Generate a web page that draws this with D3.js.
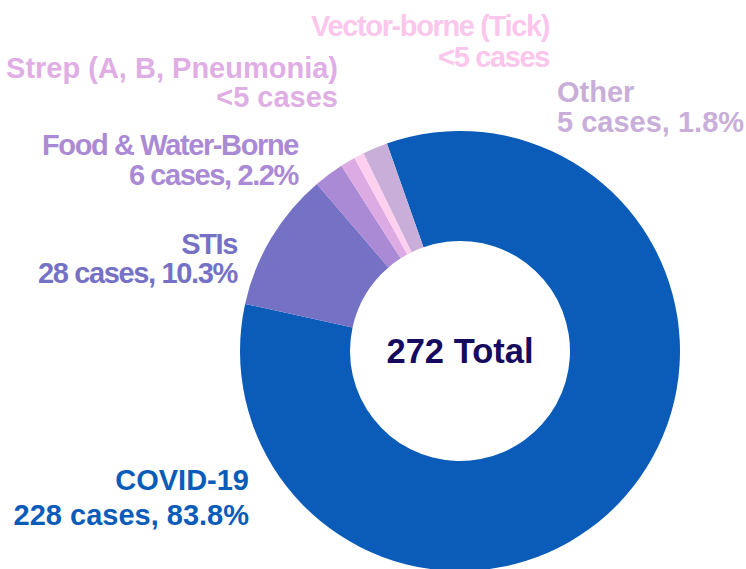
<!DOCTYPE html>
<html>
<head>
<meta charset="utf-8">
<script src="https://cdn.jsdelivr.net/npm/d3@7"></script>
<style>
  html, body { margin: 0; padding: 0; background: white; }
  svg { display: block; font-family: "Liberation Sans", Arial, sans-serif; font-weight: bold; }
</style>
</head>
<body>
<svg width="746" height="569"></svg>
<script>
// === Data

const CATEGORIES = ['COVID-19', 'STIs', 'Food & Water-Borne', 'Strep (A, B, Pneumonia)', 'Vector-borne (Tick)', 'Other'];
const CASES = [228, 28, 6, 3, 2, 5];
const CASE_TEXT = ['228 cases, 83.8%', '28 cases, 10.3%', '6 cases, 2.2%', '<5 cases', '<5 cases', '5 cases, 1.8%'];
const COLORS = ['#0b5cb9', '#7572c6', '#aa8ad5', '#dcabe3', '#fdd0f0', '#c8aed8'];
const TEXT_COLORS = ['#0b5cb9', '#7572c6', '#aa8ad5', '#dfaee4', '#fbc6ec', '#c8aed8'];
const TOTAL_TEXT = '272 Total';


// === Layout

const CENTER = { x: 460, y: 351 };
const OUTER_R = 220;
const INNER_R = 110;
const START_ANGLE = -19.4 * Math.PI / 180;

// label placement: x, baseline of first line, line gap, anchor, size, letter spacing
const LABEL_LAYOUT = [
  { x: 249, y: 490, gap: 35, anchor: 'end', size: 29, ls: 0 },
  { x: 237, y: 254, gap: 29, anchor: 'end', size: 29, ls: -1.35 },
  { x: 298, y: 155, gap: 30, anchor: 'end', size: 29, ls: -1.38 },
  { x: 338, y: 78, gap: 29, anchor: 'end', size: 29, ls: 0 },
  { x: 549, y: 36, gap: 31, anchor: 'end', size: 29, ls: -1.36 },
  { x: 557, y: 102, gap: 30, anchor: 'start', size: 29, ls: 0 }
];


// === Main

function main() {
  const svg = d3.select('svg');
  const data = CATEGORIES.map((name, i) => ({
    name: name,
    cases: CASES[i],
    text: CASE_TEXT[i],
    color: COLORS[i],
    textColor: TEXT_COLORS[i],
    layout: LABEL_LAYOUT[i]
  }));

  const pie = d3.pie()
    .sort(null)
    .value(d => d.cases)
    .startAngle(START_ANGLE)
    .endAngle(START_ANGLE + 2 * Math.PI);

  const arc = d3.arc()
    .innerRadius(INNER_R)
    .outerRadius(OUTER_R);

  const chart = svg.append('g')
    .attr('class', 'donut')
    .attr('transform', `translate(${CENTER.x},${CENTER.y})`);

  chart.selectAll('path.slice')
    .data(pie(data))
    .enter()
    .append('path')
    .attr('class', 'slice')
    .attr('d', arc)
    .attr('fill', d => d.data.color);

  chart.append('text')
    .attr('class', 'total')
    .attr('text-anchor', 'middle')
    .attr('dy', '0.36em')
    .attr('font-size', 34.5)
    .attr('fill', '#150a5e')
    .text(TOTAL_TEXT);

  // labels
  const labels = svg.append('g').attr('class', 'labels')
    .selectAll('text')
    .data(data)
    .enter()
    .append('text')
    .attr('text-anchor', d => d.layout.anchor)
    .attr('font-size', d => d.layout.size)
    .attr('letter-spacing', d => d.layout.ls)
    .attr('fill', d => d.textColor);

  labels.append('tspan')
    .attr('x', d => d.layout.x)
    .attr('y', d => d.layout.y)
    .text(d => d.name);
  labels.append('tspan')
    .attr('x', d => d.layout.x)
    .attr('y', d => d.layout.y + d.layout.gap)
    .text(d => d.text);
}

main();
</script>
</body>
</html>
